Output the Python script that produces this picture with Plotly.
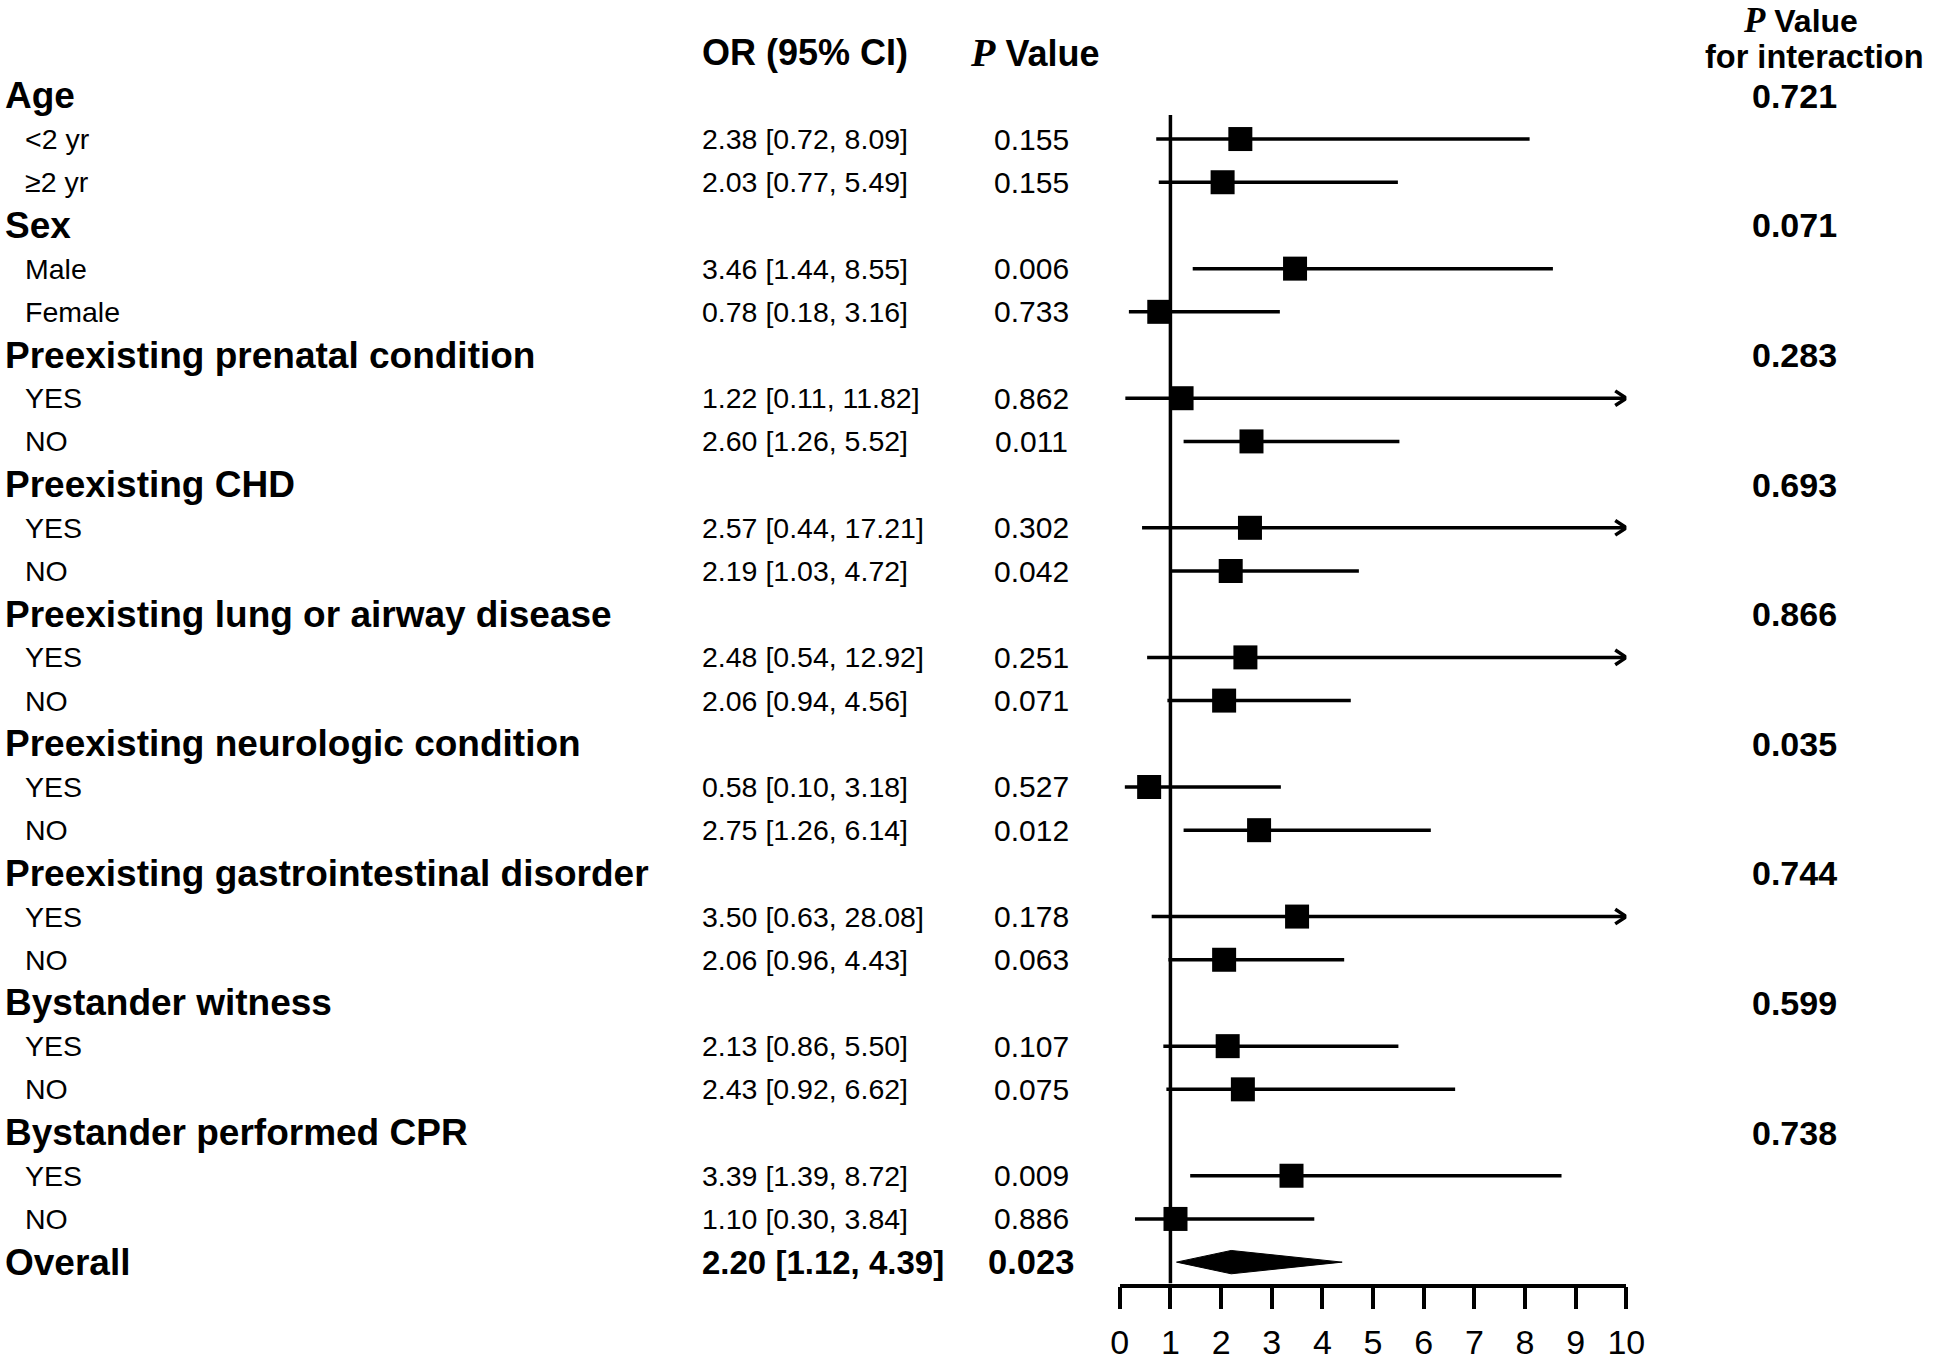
import plotly.graph_objects as go

# ---------------- data ----------------
groups = ["Age", "Sex", "Preexisting prenatal condition", "Preexisting CHD",
          "Preexisting lung or airway disease", "Preexisting neurologic condition",
          "Preexisting gastrointestinal disorder", "Bystander witness",
          "Bystander performed CPR"]
subgroups = [["<2 yr", "\u22652 yr"], ["Male", "Female"], ["YES", "NO"], ["YES", "NO"],
             ["YES", "NO"], ["YES", "NO"], ["YES", "NO"], ["YES", "NO"], ["YES", "NO"]]
or_vals = [[2.38, 2.03], [3.46, 0.78], [1.22, 2.60], [2.57, 2.19], [2.48, 2.06],
           [0.58, 2.75], [3.50, 2.06], [2.13, 2.43], [3.39, 1.10]]
ci_low = [[0.72, 0.77], [1.44, 0.18], [0.11, 1.26], [0.44, 1.03], [0.54, 0.94],
          [0.10, 1.26], [0.63, 0.96], [0.86, 0.92], [1.39, 0.30]]
ci_high = [[8.09, 5.49], [8.55, 3.16], [11.82, 5.52], [17.21, 4.72], [12.92, 4.56],
           [3.18, 6.14], [28.08, 4.43], [5.50, 6.62], [8.72, 3.84]]
p_vals = [["0.155", "0.155"], ["0.006", "0.733"], ["0.862", "0.011"], ["0.302", "0.042"],
          ["0.251", "0.071"], ["0.527", "0.012"], ["0.178", "0.063"], ["0.107", "0.075"],
          ["0.009", "0.886"]]
p_interaction = ["0.721", "0.071", "0.283", "0.693", "0.866", "0.035", "0.744", "0.599", "0.738"]
overall_or, overall_low, overall_high, overall_p = 2.20, 1.12, 4.39, "0.023"
x_ticks = list(range(0, 11))
x_max = 10

# ---------------- layout constants ----------------
W, H = 1944, 1361
ROW0, ROWH = 96.7, 43.58
AXIS_Y = 1295
FONT = "Liberation Sans, Arial, sans-serif"
SERIF = "Liberation Serif, Times New Roman, serif"

def px(x):
    return x / W

def row_of(ypx):
    return (ypx - ROW0) / ROWH

fig = go.Figure()
ann = []

def txt(x, y, s, size, bold=False, anchor="left", yanchor="middle"):
    ann.append(dict(x=px(x), y=y, xref="paper", yref="y", text=("<b>%s</b>" % s) if bold else s,
                    showarrow=False, xanchor=anchor, yanchor=yanchor, borderpad=0,
                    font=dict(family=FONT, size=size, color="black")))

HEAD_SZ, REG_SZ, P_SZ, VAL_B_SZ = 37, 28.5, 30, 33
OR_X, P_X, INT_X = 702, 1037, 1812
LBL_X, SUB_X = -5, 15

# headers
P_ITAL = '<span style="font-family:%s;font-size:40px"><b><i>P</i></b></span>' % SERIF
P_ITAL_R = '<span style="font-family:%s;font-size:35px"><b><i>P</i></b></span>' % SERIF
txt(OR_X, row_of(53), "OR (95% CI)", 36, bold=True, anchor="left")
ann.append(dict(x=px(1041), y=row_of(53), xref="paper", yref="y",
                text=P_ITAL + "<b> Value</b>", showarrow=False, xanchor="center", yanchor="middle",
                font=dict(family=FONT, size=36, color="black")))
ann.append(dict(x=px(1818), y=1.0, xref="paper", yref="paper",
                text=P_ITAL_R + "<b> Value</b>", showarrow=False, xanchor="center", yanchor="top",
                borderpad=0, font=dict(family=FONT, size=32, color="black")))
txt(W, row_of(58), "for interaction", 32.5, bold=True, anchor="right")

row = 0
rows_or, rows_y, rows_lo, rows_hi = [], [], [], []
for g, subs, ors, los, his, ps, pint in zip(groups, subgroups, or_vals, ci_low, ci_high,
                                            p_vals, p_interaction):
    txt(LBL_X, row, g, HEAD_SZ, bold=True)
    txt(INT_X, row, pint, 34, bold=True, anchor="center")
    row += 1
    for s, o, lo, hi, p in zip(subs, ors, los, his, ps):
        txt(SUB_X, row, s, REG_SZ)
        txt(OR_X, row, "%.2f [%.2f, %.2f]" % (o, lo, hi), REG_SZ, anchor="left")
        txt(P_X, row, p, P_SZ, anchor="center")
        rows_or.append(o); rows_y.append(row); rows_lo.append(lo); rows_hi.append(hi)
        row += 1

overall_row = row
txt(LBL_X, overall_row, "Overall", HEAD_SZ, bold=True)
txt(OR_X, overall_row, "%.2f [%.2f, %.2f]" % (overall_or, overall_low, overall_high),
    VAL_B_SZ, bold=True, anchor="left")
txt(P_X, overall_row, overall_p, 34.5, bold=True, anchor="center")

LW = 3.5
# reference line at OR = 1
fig.add_trace(go.Scatter(x=[1, 1], y=[row_of(116), row_of(AXIS_Y)], mode="lines",
                         line=dict(color="black", width=LW), cliponaxis=False,
                         hoverinfo="skip", showlegend=False))

# CI lines
for o, y, lo, hi in zip(rows_or, rows_y, rows_lo, rows_hi):
    hi_c = min(hi, x_max)
    fig.add_trace(go.Scatter(x=[lo, hi_c], y=[y, y], mode="lines",
                             line=dict(color="black", width=LW), cliponaxis=False,
                             hoverinfo="skip", showlegend=False))
    if hi > x_max:
        fig.add_trace(go.Scatter(x=[x_max - 0.22, x_max, x_max - 0.22], y=[y - 0.17, y, y + 0.17],
                                 mode="lines", line=dict(color="black", width=LW),
                                 cliponaxis=False, hoverinfo="skip", showlegend=False))

# point estimates
fig.add_trace(go.Scatter(x=rows_or, y=rows_y, mode="markers",
                         marker=dict(symbol="square", size=24, color="black"),
                         cliponaxis=False, hoverinfo="skip", showlegend=False))

# overall diamond
dh = 0.27
fig.add_trace(go.Scatter(x=[overall_low, overall_or, overall_high, overall_or, overall_low],
                         y=[overall_row, overall_row - dh, overall_row, overall_row + dh, overall_row],
                         mode="lines", fill="toself", fillcolor="black",
                         line=dict(color="black", width=1), cliponaxis=False,
                         hoverinfo="skip", showlegend=False))

fig.update_layout(
    width=W, height=H, margin=dict(l=0, r=0, t=0, b=0),
    paper_bgcolor="white", plot_bgcolor="white",
    annotations=ann, showlegend=False,
    xaxis=dict(domain=[1127 / W, 1641 / W], range=[0, x_max], tickvals=x_ticks,
               ticktext=[str(t) for t in x_ticks], showgrid=False, zeroline=False,
               showline=True, linecolor="black", linewidth=LW, ticks="outside",
               ticklen=22, tickwidth=LW, tickcolor="black", ticklabelstandoff=4,
               tickfont=dict(family=FONT, size=34, color="black"), fixedrange=True),
    yaxis=dict(domain=[(H - AXIS_Y) / H, 1], range=[row_of(AXIS_Y), row_of(0)],
               visible=False, showgrid=False, zeroline=False, fixedrange=True),
)

fig.write_html("out.html", config={"displayModeBar": False},
               post_script="document.body.style.margin='0px';document.body.style.padding='0px';"
                           "document.body.style.overflow='hidden';")
